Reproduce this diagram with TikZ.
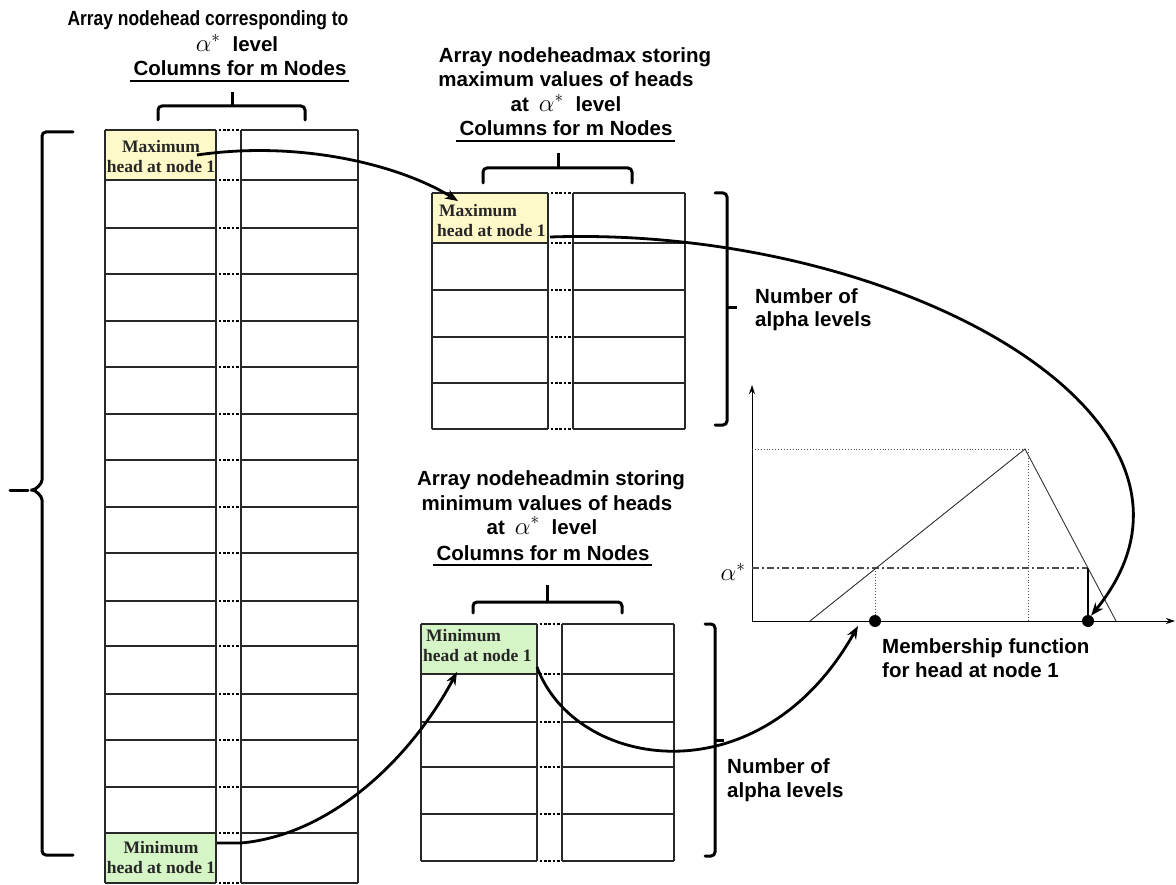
\documentclass[tikz,border=0pt]{standalone}
\usepackage{graphicx}
\usepackage{fontspec}
\newfontfamily\arialf{Liberation Sans}
\newfontfamily\timesf{Liberation Serif}
\usetikzlibrary{arrows.meta}
\definecolor{cellyellow}{RGB}{255,248,200}
\definecolor{cellgreen}{RGB}{214,245,198}
\definecolor{tblgray}{RGB}{40,40,40}
\newcommand\alst{{\fontsize{23}{23}\selectfont$\alpha^{*}$}}
\newcommand\drawtable[7]{%
  \foreach \yy in {#5} {
    \draw[tblline] (#1,\yy) -- (#2,\yy);
    \draw[tblline] (#3,\yy) -- (#4,\yy);
    \draw[gapdots] (#2+2.5,\yy) -- (#3-2.5,\yy);
  }
  \foreach \xx in {#1,#2,#3,#4} {\draw[tblline] (\xx,#6) -- (\xx,#7);}
}
\tikzset{
  tblline/.style={draw=tblgray, line width=1.2pt},
  gapdots/.style={line width=2.2pt, dash pattern=on 2.6pt off 1.8pt, draw=black},
  brace/.style={line width=3pt, line cap=round, rounded corners=4pt},
  conn/.style={line width=2.8pt, -{Stealth[length=13pt,width=10pt]}},
  ttl/.style={font=\arialf\bfseries\fontsize{20.5}{24}\selectfont, inner sep=0pt, anchor=base},
  celltxt/.style={font=\timesf\bfseries\fontsize{17.5}{20}\selectfont, inner sep=0pt, text=black!85},
  axis/.style={line width=1pt, -{Stealth[length=9pt,width=6pt]}},
  mfline/.style={line width=0.9pt, draw=black!80},
  dotl/.style={line width=0.9pt, dotted, draw=black!70},
  dashdot/.style={line width=1.3pt, dash pattern=on 7pt off 3pt on 2pt off 3pt, draw=black!70},
  uline/.style={line width=2pt, shorten <=-3pt, shorten >=-2pt},
  cell/.style={inner sep=0pt, anchor=north west, minimum height=50pt},
  bigdot/.style={circle, fill=black, inner sep=0pt, minimum size=12pt},
}
\begin{document}
\begin{tikzpicture}[x=1pt,y=-1pt]
\useasboundingbox (0,0) rectangle (1176,885);
% cells
\node[cell, fill=cellyellow, minimum width=111pt] (maxL) at (105,130) {};
\node[cell, fill=cellyellow, minimum width=116pt] (maxM) at (432,193) {};
\node[cell, fill=cellgreen, minimum width=111pt] (minL) at (105,833) {};
\node[cell, fill=cellgreen, minimum width=116pt] (minM) at (421,624) {};
% tables
\drawtable{105}{216}{241}{358}{130,180,228,274,321,367,414,460,507,553,601,646,694,740,787,833,883}{130}{883}
\drawtable{432}{548}{573}{685}{193,243,290,337,383,429}{193}{429}
\drawtable{421}{537}{562}{674}{624,674,722,767,814,861}{624}{861}
% cell texts
\node[celltxt, align=center] (maxLt) at (161,157) {Maximum\\head at node 1};
\node[celltxt, align=left, anchor=west] (maxMt) at (437,221) {\hspace{2pt}Maximum\\head at node 1};
\node[celltxt, align=center] (minLt) at (161,858) {Minimum\\head at node 1};
\node[celltxt, align=left, anchor=west] (minMt) at (423,646) {\hspace{3pt}Minimum\\head at node 1};
% titles
\node[ttl] (t1a) at (208,26) {\scalebox{0.85}[1]{Array nodehead corresponding to}};
\node[ttl] (t1b) at (237,52) {\alst\hspace{12pt}level};
\node[ttl] (t1c) at (240,76) {Columns for m Nodes};
\draw[uline] ([yshift=-5pt]t1c.base west) -- ([yshift=-5pt]t1c.base east);
\node[ttl] (t2a) at (575,63) {Array nodeheadmax storing};
\node[ttl] (t2b) at (566,87) {maximum values of heads};
\node[ttl] (t2c) at (566,112) {at\hspace{10pt}\alst\hspace{12pt}level};
\node[ttl] (t2d) at (566,136) {Columns for m Nodes};
\draw[uline] ([yshift=-5pt]t2d.base west) -- ([yshift=-5pt]t2d.base east);
\node[ttl] (t3a) at (551,485) {Array nodeheadmin storing};
\node[ttl] (t3b) at (547,510) {minimum values of heads};
\node[ttl] (t3c) at (542,534) {at\hspace{10pt}\alst\hspace{12pt}level};
\node[ttl] (t3d) at (543,560) {Columns for m Nodes};
\draw[uline] ([yshift=-5pt]t3d.base west) -- ([yshift=-5pt]t3d.base east);
\node[ttl, anchor=base west, align=left] (nal1) at (755,327) {Number of\\alpha levels};
\node[ttl, anchor=base west, align=left] (nal2) at (727,797) {Number of\\alpha levels};
\node[ttl, anchor=base west, align=left] (mfun) at (882,677) {Membership function\\for head at node 1};
% braces
\draw[brace] (158,120) -- (158,106) -- (305,106) -- (305,120);
\draw[line width=3pt] (232,106) -- (232,92);
\draw[brace] (483,183) -- (483,168) -- (632,168) -- (632,183);
\draw[line width=3pt] (558,168) -- (558,153);
\draw[brace] (473,613) -- (473,602) -- (622,602) -- (622,613);
\draw[line width=3pt] (547,602) -- (547,585);
\draw[brace] (73,132) -- (42,132) -- (42,476) to[out=-90,in=0] (28,490) to[out=0,in=90] (42,504) -- (42,855) -- (73,855);
\draw[line width=3pt, line cap=round] (10,490) -- (28,490);
\draw[brace] (715,193) -- (727,193) -- (727,425) -- (715,425);
\draw[line width=3pt] (727,308) -- (737,308);
\draw[brace] (705,624) -- (715,624) -- (715,856) -- (705,856);
\draw[line width=3pt] (715,740) -- (724,740);
% graph
\coordinate (O) at (752,621);
\coordinate (ytop) at (752,385);
\coordinate (xend) at (1175,621);
\draw[axis] (O) -- (ytop);
\draw[axis] (O) -- (xend);
\coordinate (A) at (810,621);
\coordinate (P) at (1025,449);
\coordinate (B) at (1116,621);
\draw[dotl] (752,449) -- (1030,449);
\draw[dotl] (1028,449) -- (1028,621);
\coordinate (L) at (875,568);
\coordinate (R) at (1088,568);
\draw[dashdot] (752,568) -- (R);
\draw[dotl] (L) -- (875,621);
\draw[line width=1.4pt] (R) -- (1088,621);
\draw[mfline] (A) -- (P) -- (B);
\node[bigdot] (dL) at (875,621) {};
\node[bigdot] (dR) at (1088,621) {};
\node[inner sep=0pt] (alab) at (733,572) {\fontsize{24}{24}\selectfont$\alpha^{*}$};
% connectors
\coordinate (a1s) at (197,155);
\coordinate (a1e) at (458,201);
\draw[conn] (a1s) .. controls (300,140) and (400,165) .. (a1e);
\coordinate (a2s) at (550,237);
\draw[conn] (a2s) .. controls (900,225) and (1250,420) .. (dR.60);
\coordinate (a3s) at (217,843);
\coordinate (a3m) at (241,843);
\coordinate (a3e) at (457,672);
\draw[conn] (a3s) -- (a3m) .. controls (330,835) and (410,760) .. (a3e);
\coordinate (a4s) at (537,667);
\coordinate (a4e) at (858,626);
\draw[conn] (a4s) .. controls (575,770) and (760,800) .. (a4e);
\end{tikzpicture}
\end{document}
